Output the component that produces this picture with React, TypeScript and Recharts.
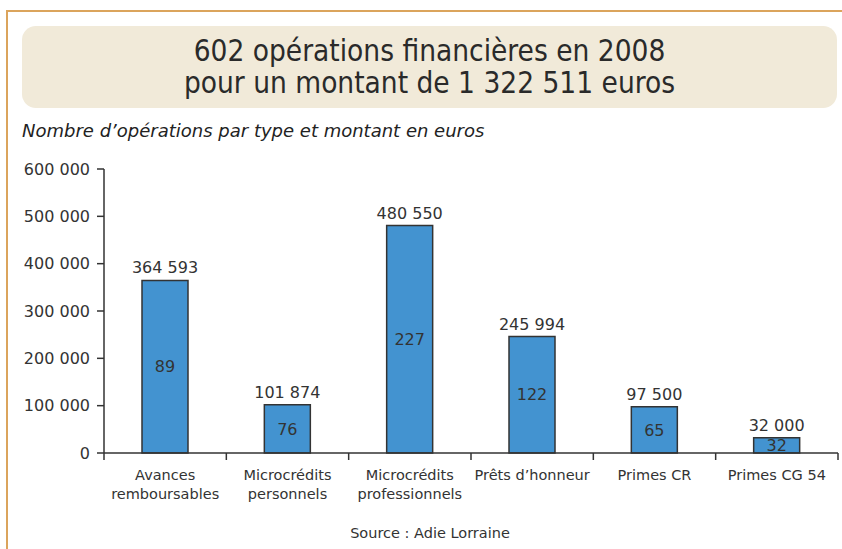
import { Bar, BarChart, LabelList, XAxis, YAxis } from "recharts";

const categories = [
  "Avances\nremboursables",
  "Microcrédits\npersonnels",
  "Microcrédits\nprofessionnels",
  "Prêts d’honneur",
  "Primes CR",
  "Primes CG 54",
];
const amounts = [364593, 101874, 480550, 245994, 97500, 32000];
const counts = [89, 76, 227, 122, 65, 32];
const yTicks = [0, 100000, 200000, 300000, 400000, 500000, 600000];

const chartData = categories.map((name, i) => ({ name, amount: amounts[i], count: counts[i] }));

// non-breaking space so the value labels never wrap
const fmt = (v: number) => String(v).replace(/\B(?=(\d{3})+(?!\d))/g, "\u00a0");

const W = 842;
const H = 549;
const PLOT_LEFT = 104;
const PLOT_RIGHT = 4;
const band = (W - PLOT_LEFT - PLOT_RIGHT) / categories.length;
const ink = "#333";
const font = "'DejaVu Sans', sans-serif";

function CategoryTick(props: any) {
  const { x, y, payload, index } = props;
  const lines = String(payload.value).split("\n");
  const axisY = y - 7;
  return (
    <g>
      <line x1={x - band / 2} x2={x - band / 2} y1={axisY} y2={axisY + 7} stroke={ink} strokeWidth={1.5} />
      {index === categories.length - 1 && (
        <line x1={x + band / 2} x2={x + band / 2} y1={axisY} y2={axisY + 7} stroke={ink} strokeWidth={1.5} />
      )}
      <text x={x} y={axisY + 27} textAnchor="middle" fontSize={14.5} fill={ink} fontFamily={font}>
        {lines.map((l, i) => (
          <tspan key={i} x={x} dy={i === 0 ? 0 : 19}>
            {l}
          </tspan>
        ))}
      </text>
    </g>
  );
}

export default function App() {
  return (
    <div style={{ position: "relative", width: W, height: H, background: "#fff", overflow: "hidden" }}>
      <style>{`body{margin:0}`}</style>
      <div
        style={{
          position: "absolute",
          left: 6,
          top: 10,
          width: W,
          height: H,
          borderTop: "2px solid #dba45c",
          borderLeft: "2px solid #dba45c",
        }}
      />
      <div
        style={{
          position: "absolute",
          left: 22,
          top: 26,
          width: 815,
          height: 82,
          background: "#f1ead9",
          borderRadius: 14,
          display: "flex",
          flexDirection: "column",
          justifyContent: "center",
          alignItems: "center",
          fontFamily: "'DejaVu Sans Condensed', 'Liberation Sans Narrow', sans-serif",
          fontSize: 29.5,
          lineHeight: "32px",
          color: "#2a2a2a",
        }}
      >
        <div>602 opérations financières en 2008</div>
        <div>pour un montant de 1 322 511 euros</div>
      </div>
      <div
        style={{
          position: "absolute",
          left: 22,
          top: 120,
          fontFamily: font,
          fontStyle: "italic",
          fontSize: 18,
          color: "#222",
        }}
      >
        Nombre d’opérations par type et montant en euros
      </div>
      <div style={{ position: "absolute", left: 0, top: 0 }}>
        <BarChart
          width={W}
          height={H}
          data={chartData}
          margin={{ top: 169, right: PLOT_RIGHT, bottom: 0, left: 0 }}
        >
          <XAxis
            dataKey="name"
            interval={0}
            tickLine={false}
            tickSize={7}
            tickMargin={0}
            height={96}
            stroke={ink}
            strokeWidth={1.5}
            tick={<CategoryTick />}
          />
          <YAxis
            type="number"
            domain={[0, 600000]}
            ticks={yTicks}
            width={PLOT_LEFT}
            tickSize={7}
            tickMargin={7}
            stroke={ink}
            strokeWidth={1.5}
            tickFormatter={fmt}
            tick={{ fontSize: 16, fill: ink, fontFamily: font }}
            interval={0}
          />
          <Bar dataKey="amount" fill="#4393d0" stroke={ink} strokeWidth={1.5} barSize={46} isAnimationActive={false}>
            <LabelList dataKey="amount" position="top" offset={7} formatter={(v: any) => fmt(Number(v))} fontSize={16} fill={ink} fontFamily={font} />
            <LabelList dataKey="count" position="center" fontSize={16} fill={ink} fontFamily={font} />
          </Bar>
        </BarChart>
      </div>
      <div
        style={{
          position: "absolute",
          left: 0,
          width: 860,
          top: 525,
          textAlign: "center",
          fontFamily: font,
          fontSize: 14.5,
          color: ink,
        }}
      >
        Source : Adie Lorraine
      </div>
    </div>
  );
}
